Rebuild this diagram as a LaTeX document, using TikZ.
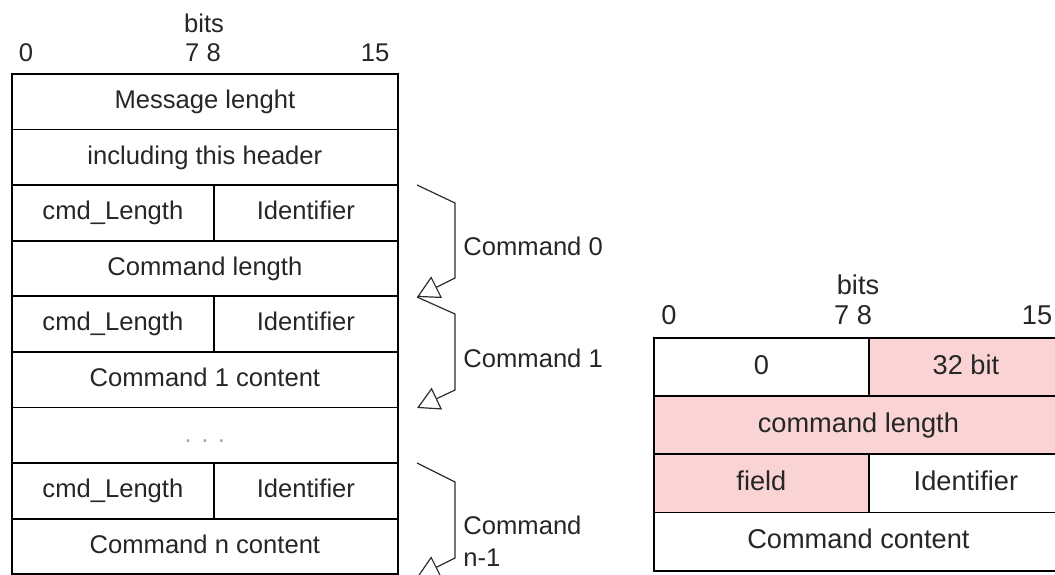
\documentclass[tikz,border=0pt]{standalone}
\usepackage{fontspec}
\setmainfont{Liberation Sans}
\usetikzlibrary{arrows.meta}
\definecolor{pinkcell}{RGB}{250,212,212}
\definecolor{txt}{RGB}{38,38,38}
\definecolor{bracecol}{RGB}{45,45,45}
\begin{document}
\begin{tikzpicture}[x=0.5pt,y=-0.5pt,
  basefont/.style={font=\fontsize{12.8}{16}\selectfont},
  bigfont/.style={font=\fontsize{13.6}{17}\selectfont},
  cell/.style={draw=black, line width=0.9pt, inner sep=0pt, anchor=north west, text=txt, basefont, text height=9.4pt, text depth=2.6pt},
  rcell/.style={cell, bigfont, text height=10pt, text depth=2.8pt},
  lfull/.style={cell, minimum width=193pt, minimum height=27.8pt},
  lhalfa/.style={cell, minimum width=101pt, minimum height=27.8pt},
  lhalfb/.style={cell, minimum width=92pt, minimum height=27.8pt},
  rfull/.style={rcell, minimum width=204.5pt, minimum height=29.1pt},
  rhalfa/.style={rcell, minimum width=107.5pt, minimum height=29.1pt},
  rhalfb/.style={rcell, minimum width=97pt, minimum height=29.1pt},
  pinkfill/.style={fill=pinkcell},
  hdr/.style={text=txt, inner sep=0pt, basefont},
  rhdr/.style={hdr, bigfont},
  lbl/.style={text=txt, inner sep=0pt, anchor=west, align=left, basefont},
  bracket/.style={draw=bracecol, line width=0.6pt, -{Triangle[open, length=11pt, width=12pt]}}
]
\useasboundingbox (0,0) rectangle (1055,574);

% ---------- left table headers ----------
\node[hdr] (lbits) at (204,23) {bits};
\node[hdr] (l0) at (26,53) {0};
\node[hdr] (l78) at (203,53) {7 8};
\node[hdr] (l15) at (375,53) {15};

% ---------- left table ----------
\node[lfull] (msg) at (11,73) {Message lenght};
\node[lfull] (inc) at (11,128.6) {including this header};
\node[lhalfa] (cl0) at (11,184.2) {cmd\_Length};
\node[lhalfb] (id0) at (213,184.2) {Identifier};
\node[lfull] (cmdlen) at (11,239.8) {Command length};
\node[lhalfa] (cl1) at (11,295.4) {cmd\_Length};
\node[lhalfb] (id1) at (213,295.4) {Identifier};
\node[lfull] (c1c) at (11,351) {Command 1 content};
\node[lfull] (dots) at (11,406.6) {\textcolor{gray!70}{. . .}};
\node[lhalfa] (cln) at (11,462.2) {cmd\_Length};
\node[lhalfb] (idn) at (213,462.2) {Identifier};
\node[lfull] (cnc) at (11,517.8) {Command n content};

% ---------- brackets ----------
\coordinate (b0s) at (417,185);
\coordinate (b0a) at (455,203);
\coordinate (b0b) at (455,278);
\coordinate (b0e) at (417,297);
\draw[bracket] (b0s) -- (b0a) -- (b0b) -- (b0e);
\node[lbl] (lab0) at (463,246) {Command 0};

\coordinate (b1s) at (417,297);
\coordinate (b1a) at (455,314);
\coordinate (b1b) at (455,390);
\coordinate (b1e) at (417,408);
\draw[bracket] (b1s) -- (b1a) -- (b1b) -- (b1e);
\node[lbl] (lab1) at (463,358) {Command 1};

\coordinate (bns) at (417,463);
\coordinate (bna) at (455,482);
\coordinate (bnb) at (455,558);
\coordinate (bne) at (417,577);
\draw[bracket] (bns) -- (bna) -- (bnb) -- (bne);
\node[lbl] (labn) at (463,541) {Command\\n-1};

% ---------- right table headers ----------
\node[rhdr] (rbits) at (858,285) {bits};
\node[rhdr] (r0) at (669,315) {0};
\node[rhdr] (r78) at (853,315) {7 8};
\node[rhdr] (r15) at (1037,315) {15};

% ---------- right table ----------
\node[rhalfa] (zero) at (653,337) {0};
\node[rhalfb,pinkfill] (b32) at (868,337) {32 bit};
\node[rfull,pinkfill] (clen) at (653,395.2) {command length};
\node[rhalfa,pinkfill] (field) at (653,453.4) {field};
\node[rhalfb] (ident) at (868,453.4) {Identifier};
\node[rfull] (ccont) at (653,511.6) {Command content};
\end{tikzpicture}
\end{document}
